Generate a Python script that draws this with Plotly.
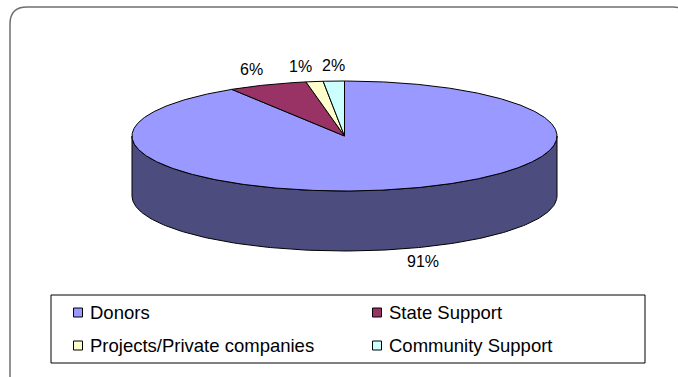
import numpy as np
import plotly.graph_objects as go

# ---- data ----
categories = ["Donors", "State Support", "Projects/Private companies", "Community Support"]
values = [91.1, 6.0, 1.3, 1.6]

# ---- style ----
colors = ["#9999FF", "#993366", "#FFFFCC", "#CCFFFF"]
FONT = "Arial, Liberation Sans, sans-serif"
W, H = 678, 377
CX, CY, RX, RY, DEPTH = 344.5, 136, 212.5, 55, 60


def darker(hexcol, f=0.5):
    h = hexcol.lstrip("#")
    r, g, b = (int(h[i:i + 2], 16) for i in (0, 2, 4))
    return "rgb(%d,%d,%d)" % (r * f, g * f, b * f)


def pt(theta_deg, dy=0.0):
    t = np.radians(theta_deg)
    return CX + RX * np.sin(t), CY - RY * np.cos(t) + dy


total = float(sum(values))
fracs = [v / total for v in values]
starts = np.concatenate([[0.0], np.cumsum(fracs)[:-1]]) * 360
ends = np.cumsum(fracs) * 360

fig = go.Figure()

# ---- side walls (front half only: 90..270 deg) ----
for s, e, c in zip(starts, ends, colors):
    a, b = max(s, 90.0), min(e, 270.0)
    if b <= a:
        continue
    th = np.linspace(a, b, 200)
    xt, yt = pt(th)
    xb, yb = pt(th[::-1], DEPTH)
    fig.add_trace(go.Scatter(
        x=np.concatenate([xt, xb, xt[:1]]), y=np.concatenate([yt, yb, yt[:1]]),
        mode="lines", fill="toself", fillcolor=darker(c),
        line=dict(color="black", width=1), hoverinfo="skip", showlegend=False))

# ---- top faces ----
for s, e, c, name in zip(starts, ends, colors, categories):
    n = max(int((e - s) * 2), 4)
    th = np.linspace(s, e, n)
    xa, ya = pt(th)
    fig.add_trace(go.Scatter(
        x=np.concatenate([[CX], xa, [CX]]), y=np.concatenate([[CY], ya, [CY]]),
        mode="lines", fill="toself", fillcolor=c,
        line=dict(color="black", width=1), hoverinfo="skip", showlegend=False, name=name))

# ---- percentage labels ----
for s, e, f in zip(starts, ends, fracs):
    mid = (s + e) / 2
    t = np.radians(mid)
    sn, cs = np.sin(t), np.cos(t)
    x = CX + (RX + 11) * sn
    y = CY - (RY + 6) * cs + (DEPTH if cs < 0 else 0) + (-3 if cs < 0 else 0)
    xa = "center" if abs(sn) < 0.1 else ("left" if sn > 0 else "right")
    ya = "bottom" if cs > 0 else "top"
    fig.add_annotation(x=x, y=y, text="%d%%" % round(f * 100), showarrow=False,
                       xanchor=xa, yanchor=ya, font=dict(family=FONT, size=16, color="black"),
                       borderpad=0)

# ---- legend (drawn manually, Excel style) ----
LEG_COLS = [78, 377]
LEG_ROWS = [312.5, 345.5]
for i, (name, c) in enumerate(zip(categories, colors)):
    lx, ly = LEG_COLS[i % 2], LEG_ROWS[i // 2]
    fig.add_trace(go.Scatter(x=[lx], y=[ly], mode="markers",
                             marker=dict(symbol="square", size=9, color=c,
                                         line=dict(color="black", width=1)),
                             hoverinfo="skip", showlegend=False))
    fig.add_annotation(x=lx + 10, y=ly, text=name, showarrow=False, xanchor="left",
                       yanchor="middle", font=dict(family=FONT, size=18.5, color="black"))

fig.add_shape(type="rect", x0=51, y0=295, x1=645, y1=363,
              line=dict(color="black", width=1), fillcolor="rgba(0,0,0,0)", layer="below")

# ---- outer rounded border (extends beyond right/bottom edge) ----
fig.add_shape(type="path",
              path="M 10,382 L 10,24 Q 10,7 27,7 L 673,7 Q 690,7 690,24 L 690,382",
              line=dict(color="#6f6f6f", width=1.5), layer="below")

fig.update_layout(
    width=W, height=H, margin=dict(l=0, r=0, t=0, b=0),
    paper_bgcolor="white", plot_bgcolor="white",
    xaxis=dict(range=[0, W], visible=False, fixedrange=True),
    yaxis=dict(range=[H, 0], visible=False, fixedrange=True),
    showlegend=False,
)

fig.write_html("out.html")
